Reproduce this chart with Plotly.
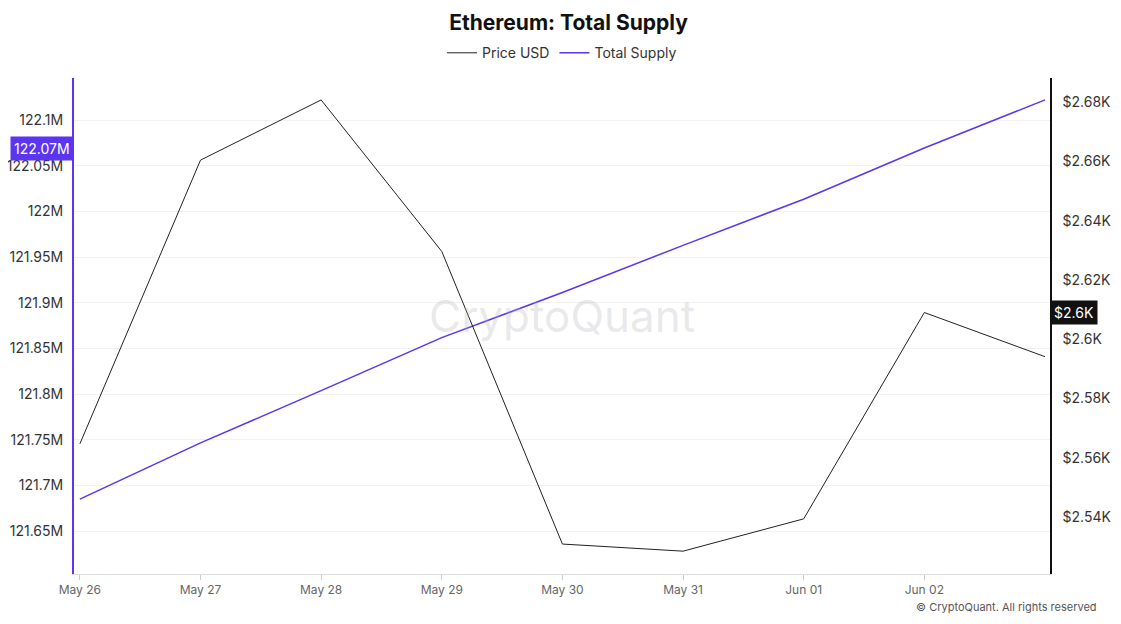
import plotly.graph_objects as go

dates = ["2025-05-26", "2025-05-27", "2025-05-28", "2025-05-29", "2025-05-30",
         "2025-05-31", "2025-06-01", "2025-06-02", "2025-06-03"]
price_usd = [2564.7, 2660.4, 2680.7, 2629.6, 2530.9, 2528.5, 2539.4, 2609.0, 2594.1]
total_supply = [121.685e6, 121.7466e6, 121.8037e6, 121.8618e6, 121.9112e6,
                121.9628e6, 122.0133e6, 122.0693e6, 122.122e6]
tick_dates = dates[:8]
tick_text = ["May 26", "May 27", "May 28", "May 29", "May 30", "May 31", "Jun 01", "Jun 02"]

blue = "#5b35f0"
fig = go.Figure()
fig.add_trace(go.Scatter(x=dates, y=price_usd, name="Price USD", yaxis="y2", mode="lines",
                         line=dict(color="#222222", width=1)))
fig.add_trace(go.Scatter(x=dates, y=total_supply, name="Total Supply", mode="lines",
                         line=dict(color=blue, width=1.5)))

fig.update_layout(
    width=1121, height=624,
    margin=dict(l=66, r=79, t=70, b=58, autoexpand=False),
    paper_bgcolor="white", plot_bgcolor="white",
    font=dict(family="Inter, Noto Sans, sans-serif", color="#333"),
    title=dict(text="<b>Ethereum: Total Supply</b>", x=0.5, y=0.976, xanchor="center",
               yanchor="middle", font=dict(size=21, color="#111")),
    legend=dict(orientation="h", x=0.5, xanchor="center", y=1.05, yanchor="middle",
                font=dict(size=14, color="#333")),
    showlegend=True,
    xaxis=dict(tickvals=tick_dates, ticktext=tick_text, showgrid=False,
               ticks="outside", ticklen=5, tickcolor="#ccc",
               tickfont=dict(size=12, color="#666"),
               range=["2025-05-25 22:50", "2025-06-03 01:00"],
               showline=True, linecolor="#ddd", automargin=False),
    yaxis=dict(range=[121.603e6, 122.146e6], tickvals=[121.65e6 + i * 0.05e6 for i in range(10)],
               ticktext=["121.65M", "121.7M", "121.75M", "121.8M", "121.85M", "121.9M",
                         "121.95M", "122M", "122.05M", "122.1M"],
               showgrid=True, gridcolor="#f2f2f2", showline=True, linecolor=blue, linewidth=2,
               tickfont=dict(size=14, color="#333"), zeroline=False, automargin=False,
               ticklabelstandoff=6),
    yaxis2=dict(overlaying="y", side="right", range=[2520.8, 2688.1],
                tickvals=[2540, 2560, 2580, 2600, 2620, 2640, 2660, 2680],
                ticktext=["$2.54K", "$2.56K", "$2.58K", "$2.6K", "$2.62K", "$2.64K", "$2.66K", "$2.68K"],
                showgrid=False, showline=True, linecolor="#111", linewidth=1.5,
                tickfont=dict(size=14, color="#333"), zeroline=False, automargin=False,
                ticklabelstandoff=8),
)

fig.add_annotation(text="CryptoQuant", xref="paper", yref="paper", x=0.5, y=0.52,
                   showarrow=False, font=dict(size=44, color="rgba(180,180,190,0.3)"))
fig.add_annotation(text="© CryptoQuant. All rights reserved", xref="paper", yref="paper",
                   x=1.05, y=-0.085, xanchor="right", showarrow=False,
                   font=dict(size=11, color="#555"))
fig.add_annotation(text="122.07M", xref="paper", yref="y", x=0, y=total_supply[7],
                   xanchor="right", showarrow=False, bgcolor=blue,
                   font=dict(size=14, color="white"), borderpad=3)
fig.add_annotation(text="$2.6K", xref="paper", yref="y2", x=1, y=price_usd[7],
                   xanchor="left", showarrow=False, bgcolor="#111",
                   font=dict(size=14, color="white"), borderpad=3)

fig.write_html("out.html")
